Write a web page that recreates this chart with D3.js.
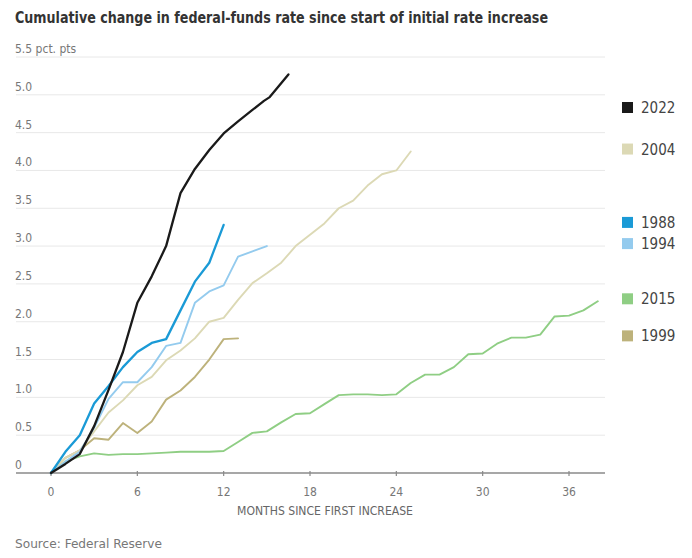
<!DOCTYPE html>
<html>
<head>
<meta charset="utf-8">
<script src="https://cdn.jsdelivr.net/npm/d3@7"></script>
<style>
  body { margin: 0; background: #fff; }
  svg text { font-family: "DejaVu Sans Condensed", "Liberation Sans Narrow", "Roboto", sans-serif; }
</style>
</head>
<body>
<div id="chart"></div>
<script>
// months since first increase, cumulative change in pct. pts
var s2022 = [[0,0],[1,0.12],[2,0.25],[3,0.62],[4,1.1],[5,1.6],[6,2.25],[7,2.6],[8,3.0],[9,3.7],[10,4.02],[11,4.27],[12,4.49],[13,4.65],[14,4.8],[14.8,4.92],[15.2,4.97],[16.5,5.27]];
var s2004 = [[0,0],[1,0.2],[2,0.3],[3,0.55],[4,0.8],[5,0.96],[6,1.16],[7,1.27],[8,1.49],[9,1.62],[10,1.78],[11,2.0],[12,2.05],[13,2.29],[14,2.51],[15,2.64],[16,2.78],[17,3.0],[18,3.15],[19,3.3],[20,3.5],[21,3.6],[22,3.8],[23,3.95],[24,4.0],[25,4.25]];
var s1988 = [[0,0],[1,0.28],[2,0.5],[3,0.92],[4,1.15],[5,1.4],[6,1.6],[7,1.72],[8,1.77],[9,2.15],[10,2.53],[11,2.78],[12,3.28]];
var s1994 = [[0,0],[1,0.15],[2,0.28],[3,0.6],[4,0.98],[5,1.2],[6,1.2],[7,1.4],[8,1.68],[9,1.72],[10,2.25],[11,2.4],[12,2.48],[13,2.86],[14,2.93],[15,3.0]];
var s2015 = [[0,0],[1,0.15],[2,0.22],[3,0.26],[4,0.24],[5,0.25],[6,0.25],[7,0.26],[8,0.27],[9,0.28],[10,0.28],[11,0.28],[12,0.29],[13,0.41],[14,0.53],[15,0.55],[16,0.67],[17,0.78],[18,0.79],[19,0.91],[20,1.03],[21,1.04],[22,1.04],[23,1.03],[24,1.04],[25,1.19],[26,1.3],[27,1.3],[28,1.4],[29,1.57],[30,1.58],[31,1.71],[32,1.79],[33,1.79],[34,1.83],[35,2.07],[36,2.08],[37,2.15],[38,2.27]];
var s1999 = [[0,0],[1,0.2],[2,0.3],[3,0.46],[4,0.44],[5,0.66],[6,0.53],[7,0.68],[8,0.97],[9,1.09],[10,1.27],[11,1.5],[12,1.77],[13,1.78]];

var seriesNames = ["2015", "1999", "2004", "1994", "1988", "2022"];   // drawing order, bottom to top
var seriesData = [s2015, s1999, s2004, s1994, s1988, s2022];
var seriesColors = ["#8fce84", "#bdb27b", "#dcd9b5", "#94cbee", "#1a9ad6", "#1a1a1a"];
var legendOrder = ["2022", "2004", "1988", "1994", "2015", "1999"];

var xTicks = [0, 6, 12, 18, 24, 30, 36];
var yTicks = [0, 0.5, 1.0, 1.5, 2.0, 2.5, 3.0, 3.5, 4.0, 4.5, 5.0, 5.5];

var W = 692, H = 558;
var svg = d3.select("#chart").append("svg").attr("width", W).attr("height", H);

var x = d3.scaleLinear().domain([0, 36]).range([51, 569]);
var y = d3.scaleLinear().domain([0, 5.5]).range([473, 57]);
var left = 16, right = 605;

// title
svg.append("text")
  .attr("x", 15).attr("y", 23)
  .attr("font-size", 15).attr("font-weight", "bold").attr("fill", "#333")
  .attr("textLength", 533).attr("lengthAdjust", "spacingAndGlyphs")
  .text("Cumulative change in federal-funds rate since start of initial rate increase");

// gridlines + y labels
var grid = svg.append("g");
grid.selectAll("line").data(yTicks.filter(function(d){ return d > 0; })).enter().append("line")
  .attr("x1", left).attr("x2", right)
  .attr("y1", function(d){ return y(d); }).attr("y2", function(d){ return y(d); })
  .attr("stroke", "#e8e8e8").attr("stroke-width", 1);

grid.selectAll("text").data(yTicks).enter().append("text")
  .attr("x", 15).attr("y", function(d){ return y(d) - 4; })
  .attr("font-size", 12).attr("fill", "#777")
  .text(function(d){
    if (d === 0) return "0";
    if (d === 5.5) return "5.5 pct. pts";
    return d3.format(".1f")(d);
  });

// x axis
var xAxis = svg.append("g").attr("transform", "translate(0," + y(0) + ")");
xAxis.append("line").attr("x1", left).attr("x2", right)
  .attr("stroke", "#8a8a8a").attr("stroke-width", 1.5);
xAxis.selectAll(".tk").data(xTicks).enter().append("line").attr("class", "tk")
  .attr("x1", function(d){ return x(d); }).attr("x2", function(d){ return x(d); })
  .attr("y1", -2).attr("y2", 3).attr("stroke", "#8a8a8a").attr("stroke-width", 1.2);
xAxis.selectAll("text").data(xTicks).enter().append("text")
  .attr("x", function(d){ return x(d); }).attr("y", 23)
  .attr("text-anchor", "middle").attr("font-size", 12).attr("fill", "#777")
  .text(function(d){ return d; });

svg.append("text")
  .attr("x", 325).attr("y", 515).attr("text-anchor", "middle")
  .attr("font-size", 12).attr("fill", "#666")
  .attr("textLength", 176).attr("lengthAdjust", "spacingAndGlyphs")
  .text("MONTHS SINCE FIRST INCREASE");

// lines
var line = d3.line().x(function(d){ return x(d[0]); }).y(function(d){ return y(d[1]); });
svg.append("g").selectAll("path").data(seriesData).enter().append("path")
  .attr("d", line)
  .attr("fill", "none")
  .attr("stroke", function(d, i){ return seriesColors[i]; })
  .attr("stroke-width", function(d, i){ return (seriesNames[i] === "2022" || seriesNames[i] === "1988") ? 2.3 : 1.9; })
  .attr("stroke-linejoin", "round").attr("stroke-linecap", "round");

// legend, placed next to each series' last value
var legend = svg.append("g");
legendOrder.forEach(function(name){
  var i = seriesNames.indexOf(name);
  var last = seriesData[i][seriesData[i].length - 1][1];
  var cy = Math.max(y(last) - 2.5, 107.5);
  legend.append("rect").attr("x", 622).attr("y", cy - 5.5).attr("width", 11).attr("height", 11)
    .attr("fill", seriesColors[i]);
  legend.append("text").attr("x", 641).attr("y", cy + 5.5)
    .attr("font-size", 15).attr("fill", "#444").text(name);
});

// source
svg.append("text")
  .attr("x", 15).attr("y", 548).attr("font-size", 12).attr("fill", "#777")
  .attr("textLength", 147).attr("lengthAdjust", "spacingAndGlyphs")
  .text("Source: Federal Reserve");
</script>
</body>
</html>
